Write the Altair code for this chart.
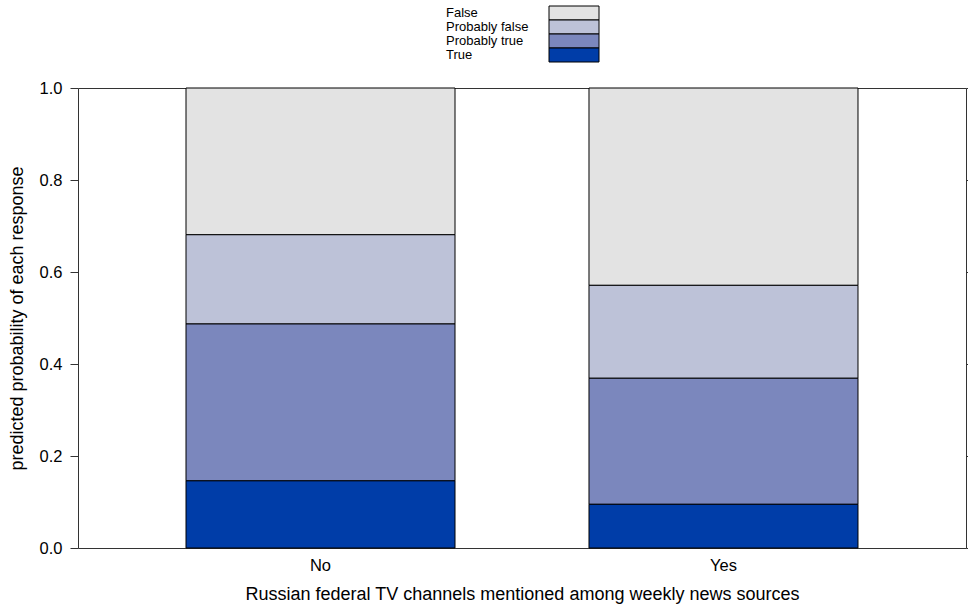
import altair as alt
import pandas as pd

# Predicted probabilities from the ordered model, by exposure group
groups = ["No", "Yes"]
responses = ["False", "Probably false", "Probably true", "True"]
prob_no = [0.319, 0.194, 0.341, 0.146]
prob_yes = [0.429, 0.202, 0.274, 0.095]
colors = ["#E3E3E3", "#BDC2D8", "#7B87BD", "#003DA8"]
y_ticks = [0.0, 0.2, 0.4, 0.6, 0.8, 1.0]

rows = []
for g, probs in zip(groups, [prob_no, prob_yes]):
    for i, (r, p) in enumerate(zip(responses, probs)):
        # "True" sits at the bottom of each stack, "False" on top
        rows.append({"group": g, "response": r, "prob": p, "stack_rank": len(responses) - 1 - i})
df = pd.DataFrame(rows)
key_df = pd.DataFrame({"response": responses})

FONT = "Liberation Sans"
color_scale = alt.Scale(domain=responses, range=colors)
x_scale = alt.Scale(paddingInner=0.3325, paddingOuter=0.268)
y_scale = alt.Scale(domain=[0, 1], nice=False, zero=True)

bars = alt.Chart(df).mark_bar(stroke="#000000", strokeWidth=1).encode(
    x=alt.X(
        "group:N",
        sort=groups,
        title="Russian federal TV channels mentioned among weekly news sources",
        scale=x_scale,
        axis=alt.Axis(
            labelAngle=0, ticks=False, tickSize=0, domain=False, labelPadding=9,
            labelFontSize=16.5, titleFontSize=18, titlePadding=12,
            labelColor="#000000", titleColor="#000000", titleFontWeight="normal",
        ),
    ),
    y=alt.Y(
        "prob:Q",
        stack="zero",
        scale=y_scale,
        title="predicted probability of each response",
        axis=alt.Axis(
            orient="left", values=y_ticks, format=".1f", grid=False, domain=False,
            tickSize=8, tickColor="#333333", labelPadding=8,
            labelFontSize=16.5, titleFontSize=18, titlePadding=13,
            labelColor="#000000", titleColor="#000000", titleFontWeight="normal",
        ),
    ),
    color=alt.Color("response:N", scale=color_scale, legend=None),
    order=alt.Order("stack_rank:Q", sort="ascending"),
)

# Tick marks along the right edge of the frame, on the same 0-1 range
right_ticks = alt.Chart(df).mark_bar(opacity=0).encode(
    x=alt.X("group:N", sort=groups, scale=x_scale),
    y=alt.Y(
        "prob:Q",
        stack="zero",
        scale=y_scale,
        axis=alt.Axis(
            orient="right", values=y_ticks, labels=False, title=None, grid=False,
            domain=False, tickSize=2, tickColor="#333333",
        ),
    ),
)

# Key above the frame: labels on the left, stacked colour swatches on the right
key_y = alt.Y(
    "response:N",
    sort=responses,
    scale=alt.Scale(range=[-82, -26], paddingInner=0, paddingOuter=0),
    axis=None,
)
key_swatches = alt.Chart(key_df).mark_rect(stroke="#000000", strokeWidth=1).encode(
    x=alt.value(471),
    x2=alt.value(521),
    y=key_y,
    color=alt.Color("response:N", scale=color_scale, legend=None),
)
key_labels = alt.Chart(key_df).mark_text(
    align="left", baseline="middle", fontSize=13, color="#000000", font=FONT
).encode(
    x=alt.value(368),
    y=key_y,
    text="response:N",
)

chart = (
    alt.layer(bars, right_ticks, key_swatches, key_labels)
    .resolve_scale(y="independent", x="shared")
    .resolve_axis(y="independent")
    .properties(
        width=888,
        height=460,
        autosize=alt.AutoSizeParams(type="none"),
        padding={"left": 78, "top": 88, "right": 2, "bottom": 58},
        background="#ffffff",
    )
    .configure(font=FONT)
    .configure_view(stroke="#333333", strokeWidth=1)
)

chart.save("out.html", embed_options={"renderer": "svg", "actions": False})
